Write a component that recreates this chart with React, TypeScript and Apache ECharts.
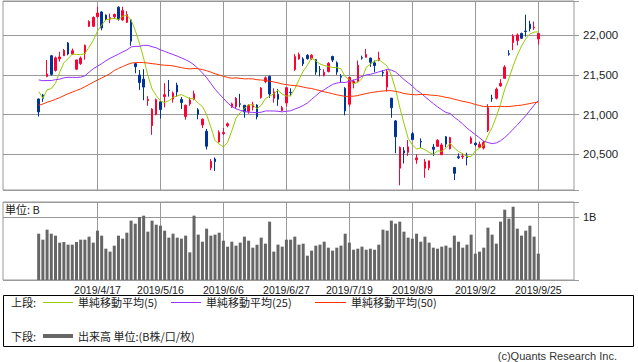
import React, { useEffect, useRef } from "react";
import * as echarts from "echarts";

// Trading days shown (2019)
const dates: string[] = [
  "2019/3/28", "2019/3/29", "2019/4/1", "2019/4/2", "2019/4/3", "2019/4/4", "2019/4/5", "2019/4/8", "2019/4/9", "2019/4/10",
  "2019/4/11", "2019/4/12", "2019/4/15", "2019/4/16", "2019/4/17", "2019/4/18", "2019/4/19", "2019/4/22", "2019/4/23", "2019/4/24",
  "2019/4/25", "2019/4/26", "2019/5/7", "2019/5/8", "2019/5/9", "2019/5/10", "2019/5/13", "2019/5/14", "2019/5/15", "2019/5/16",
  "2019/5/17", "2019/5/20", "2019/5/21", "2019/5/22", "2019/5/23", "2019/5/24", "2019/5/27", "2019/5/28", "2019/5/29", "2019/5/30",
  "2019/5/31", "2019/6/3", "2019/6/4", "2019/6/5", "2019/6/6", "2019/6/7", "2019/6/10", "2019/6/11", "2019/6/12", "2019/6/13",
  "2019/6/14", "2019/6/17", "2019/6/18", "2019/6/19", "2019/6/20", "2019/6/21", "2019/6/24", "2019/6/25", "2019/6/26", "2019/6/27",
  "2019/6/28", "2019/7/1", "2019/7/2", "2019/7/3", "2019/7/4", "2019/7/5", "2019/7/8", "2019/7/9", "2019/7/10", "2019/7/11",
  "2019/7/12", "2019/7/16", "2019/7/17", "2019/7/18", "2019/7/19", "2019/7/22", "2019/7/23", "2019/7/24", "2019/7/25", "2019/7/26",
  "2019/7/29", "2019/7/30", "2019/7/31", "2019/8/1", "2019/8/2", "2019/8/5", "2019/8/6", "2019/8/7", "2019/8/8", "2019/8/9",
  "2019/8/13", "2019/8/14", "2019/8/15", "2019/8/16", "2019/8/19", "2019/8/20", "2019/8/21", "2019/8/22", "2019/8/23", "2019/8/26",
  "2019/8/27", "2019/8/28", "2019/8/29", "2019/8/30", "2019/9/2", "2019/9/3", "2019/9/4", "2019/9/5", "2019/9/6", "2019/9/9",
  "2019/9/10", "2019/9/11", "2019/9/12", "2019/9/13", "2019/9/17", "2019/9/18", "2019/9/19", "2019/9/20", "2019/9/24", "2019/9/25",
];

const opens: number[] = [
  21196, 21245, 21480, 21740, 21555, 21700, 21740, 21900, 21760, 21570,
  21640, 21770, 22110, 22110, 22230, 22290, 22250, 22200, 22230, 22350,
  22190, 22160, 22190, 21640, 21497, 21445, 21175, 20860, 21000, 21160,
  21225, 21305, 21195, 21370, 21190, 20975, 21135, 21190, 21060, 20870,
  20790, 20330, 20440, 20655, 20760, 20860, 21095, 21100, 21135, 21117,
  21040, 21095, 21120, 21215, 21415, 21480, 21205, 21254, 21050, 21145,
  21280, 21565, 21700, 21700, 21745, 21700, 21690, 21570, 21490, 21540,
  21730, 21650, 21480, 21330, 21130, 21395, 21415, 21715, 21720, 21710,
  21650, 21680, 21530, 21345, 21205, 20920, 20325, 20545, 20525, 20760,
  20430, 20660, 20325, 20330, 20590, 20600, 20495, 20720, 20570, 20335,
  20470, 20470, 20480, 20640, 20640, 20590, 20580, 20800, 21205, 21205,
  21360, 21455, 21765, 21905, 21930, 22020, 22050, 22138, 22090, 21950,
];

const closes: number[] = [
  21033, 21206, 21509, 21505, 21713, 21724, 21807, 21761, 21802, 21687,
  21711, 21870, 22169, 22221, 22277, 22090, 22200, 22218, 22259, 22200,
  22307, 22258, 21923, 21602, 21402, 21345, 21191, 21067, 21188, 21063,
  21250, 21302, 21272, 21283, 21151, 21117, 21182, 21260, 21003, 20942,
  20601, 20410, 20408, 20776, 20774, 20884, 21134, 21204, 21129, 21032,
  21116, 21124, 20972, 21333, 21462, 21258, 21285, 21193, 21086, 21338,
  21275, 21729, 21754, 21638, 21702, 21746, 21534, 21565, 21533, 21643,
  21685, 21535, 21469, 21046, 21467, 21416, 21620, 21709, 21756, 21658,
  21616, 21709, 21521, 21540, 21087, 20720, 20585, 20516, 20593, 20684,
  20455, 20655, 20405, 20418, 20563, 20677, 20618, 20628, 20711, 20261,
  20456, 20479, 20460, 20704, 20620, 20625, 20649, 21085, 21199, 21318,
  21392, 21597, 21759, 21988, 22001, 21960, 22044, 22079, 22098, 22020,
];

const highs: number[] = [
  21200, 21260, 21686, 21750, 21730, 21790, 21825, 21910, 21830, 21690,
  21730, 21880, 22185, 22235, 22356, 22300, 22260, 22270, 22270, 22362,
  22356, 22300, 22200, 21650, 21560, 21570, 21230, 21080, 21200, 21165,
  21393, 21435, 21290, 21400, 21220, 21125, 21215, 21300, 21080, 20950,
  20820, 20440, 20460, 20800, 20830, 20900, 21150, 21220, 21260, 21120,
  21130, 21160, 21130, 21345, 21480, 21490, 21330, 21320, 21110, 21345,
  21330, 21760, 21780, 21720, 21760, 21760, 21700, 21610, 21570, 21660,
  21740, 21670, 21510, 21345, 21470, 21440, 21680, 21740, 21825, 21715,
  21680, 21790, 21560, 21565, 21210, 20930, 20600, 20590, 20680, 20780,
  20500, 20700, 20440, 20420, 20630, 20690, 20640, 20730, 20720, 20340,
  20510, 20510, 20520, 20725, 20650, 20660, 20670, 21130, 21250, 21340,
  21445, 21620, 21810, 22010, 22020, 22030, 22255, 22180, 22170, 22025,
];

const lows: number[] = [
  20975, 21160, 21470, 21490, 21540, 21665, 21735, 21745, 21750, 21560,
  21625, 21690, 22100, 22100, 22220, 22060, 22185, 22150, 22200, 22180,
  22180, 22150, 21866, 21520, 21310, 21180, 21110, 20745, 20990, 20950,
  21090, 21225, 21150, 21225, 21070, 20935, 21110, 21180, 20940, 20830,
  20560, 20300, 20290, 20650, 20740, 20840, 21085, 21080, 21090, 20960,
  21010, 21050, 20940, 21200, 21395, 21210, 21150, 21110, 21040, 21100,
  21230, 21550, 21690, 21610, 21690, 21690, 21500, 21480, 21480, 21530,
  21660, 21500, 21400, 20990, 21100, 21330, 21410, 21690, 21715, 21600,
  21530, 21670, 21480, 21290, 20960, 20514, 20110, 20385, 20480, 20680,
  20380, 20580, 20205, 20300, 20480, 20590, 20490, 20590, 20560, 20175,
  20440, 20440, 20360, 20630, 20600, 20580, 20560, 20780, 21160, 21190,
  21350, 21450, 21740, 21810, 21870, 21950, 21980, 22045, 22065, 21880,
];

// Volume, unit: billion shares (B)
const volumes: number[] = [
  0.735, 0.640, 0.799, 0.735, 0.704, 0.593, 0.603, 0.561, 0.561, 0.603,
  0.640, 0.640, 0.688, 0.593, 0.783, 0.704, 0.497, 0.450, 0.545, 0.704,
  0.656, 0.751, 0.942, 0.894, 1.000, 1.021, 0.767, 0.942, 0.878, 0.862,
  0.783, 0.672, 0.735, 0.672, 0.656, 0.704, 0.439, 1.021, 0.720, 0.608,
  0.815, 0.704, 0.720, 0.751, 0.624, 0.529, 0.608, 0.545, 0.593, 0.688,
  0.624, 0.513, 0.561, 0.672, 0.577, 0.926, 0.450, 0.561, 0.529, 0.640,
  0.640, 0.688, 0.561, 0.577, 0.386, 0.466, 0.545, 0.561, 0.608, 0.513,
  0.466, 0.513, 0.545, 0.735, 0.593, 0.481, 0.497, 0.529, 0.481, 0.497,
  0.481, 0.561, 0.799, 0.783, 0.942, 0.894, 0.926, 0.767, 0.672, 0.656,
  0.735, 0.608, 0.688, 0.593, 0.513, 0.497, 0.529, 0.545, 0.513, 0.704,
  0.608, 0.513, 0.561, 0.720, 0.418, 0.450, 0.513, 0.831, 0.720, 0.577,
  0.926, 1.116, 0.974, 1.164, 0.815, 0.704, 0.783, 0.862, 0.688, 0.418,
];

// Closes before the first shown day, used only for the moving averages
const lookbackCloses: number[] = [
  20442, 20402, 20666, 20719, 20622, 20593, 20574, 20773, 20649, 20664, 20556, 20773,
  20788, 20883, 20844, 20874, 20751, 20333, 20864, 21144, 21139, 20900, 21281, 21302,
  21431, 21464, 21425, 21528, 21449, 21556, 21385,
  21602, 21822, 21726, 21596, 21456, 21025, 21125, 21503, 21290, 21287, 21451, 21584,
  21566, 21608, 21627, 20977, 21428, 21378,
];

const maPeriods: number[] = [5, 25, 50];
const maNames: string[] = ["単純移動平均(5)", "単純移動平均(25)", "単純移動平均(50)"];
const maColors: string[] = ["#99cc00", "#9933ff", "#ff3300"];

const PAD_BEFORE = 8;
const PAD_AFTER = 8;
const FIRST_LABEL = 14; // dates[14] = 2019/4/17
const LABEL_STEP = 15;

const FONT_NUM = "'Liberation Sans', Arial, sans-serif";
const FONT_JP = "'Noto Sans CJK JP', sans-serif";

export default function App() {
  const ref = useRef<HTMLDivElement>(null);

  useEffect(() => {
    document.body.style.margin = "0";
    if (!ref.current) return;
    const chart = echarts.init(ref.current, undefined, { renderer: "svg" });

    const n = dates.length;
    const total = PAD_BEFORE + n + PAD_AFTER;
    const cats: string[] = [];
    for (let i = 0; i < total; i++) {
      const k = i - PAD_BEFORE;
      cats.push(k >= 0 && k < n ? dates[k] : `pad-${i}`);
    }
    const inData = (i: number) => i - PAD_BEFORE >= 0 && i - PAD_BEFORE < n;
    const candle = cats.map((_, i) => {
      const k = i - PAD_BEFORE;
      return inData(i) ? [opens[k], closes[k], lows[k], highs[k]] : "-";
    });
    const vol = cats.map((_, i) => (inData(i) ? volumes[i - PAD_BEFORE] : "-"));
    const all = lookbackCloses.concat(closes);
    const L = lookbackCloses.length;
    const sma = (p: number) =>
      cats.map((_, i) => {
        if (!inData(i)) return "-";
        const k = i - PAD_BEFORE;
        let s = 0;
        for (let j = k + L - p + 1; j <= k + L; j++) s += all[j];
        return +(s / p).toFixed(2);
      });

    const showAt = (idx: number) => {
      const k = idx - PAD_BEFORE;
      return k >= FIRST_LABEL && k < n && (k - FIRST_LABEL) % LABEL_STEP === 0;
    };

    const gridLine = { color: "#999999", width: 1 };

    const legendY1 = 302;
    const legendY2 = 336;

    chart.setOption({
      animation: false,
      backgroundColor: "#ffffff",
      grid: [
        { left: 3, top: 1, width: 571, height: 189, show: true, borderColor: "#999999", borderWidth: 1 },
        { left: 3, top: 202, width: 571, height: 78, show: true, borderColor: "#999999", borderWidth: 1 },
      ],
      xAxis: [
        {
          type: "category",
          gridIndex: 0,
          data: cats,
          boundaryGap: true,
          axisLine: { show: false },
          axisTick: { show: false },
          axisLabel: { show: false },
          splitLine: { show: true, interval: showAt, alignWithLabel: true, lineStyle: gridLine },
        },
        {
          type: "category",
          gridIndex: 1,
          data: cats,
          boundaryGap: true,
          axisLine: { show: false },
          axisTick: { show: false },
          axisLabel: {
            show: true,
            interval: showAt,
            margin: 4,
            fontSize: 10.5,
            fontFamily: FONT_NUM,
            color: "#222222",
          },
          splitLine: { show: true, interval: showAt, alignWithLabel: true, lineStyle: gridLine },
        },
      ],
      yAxis: [
        {
          type: "value",
          gridIndex: 0,
          position: "right",
          min: 20051,
          max: 22428,
          splitNumber: 5,
          axisLine: { show: false },
          axisTick: { show: true, length: 5, lineStyle: gridLine },
          axisLabel: {
            margin: 9,
            fontSize: 11.5,
            fontFamily: FONT_NUM,
            color: "#222222",
            formatter: (v: number) => (v % 500 === 0 ? v.toLocaleString("en-US") : ""),
          },
          splitLine: { show: true, lineStyle: gridLine },
        },
        {
          type: "value",
          gridIndex: 1,
          position: "right",
          min: 0,
          max: 1.238,
          interval: 1,
          axisLine: { show: false },
          axisTick: { show: true, length: 5, lineStyle: gridLine },
          axisLabel: {
            margin: 9,
            fontSize: 11,
            fontFamily: FONT_NUM,
            color: "#222222",
            formatter: (v: number) => (v === 1 ? "1B" : ""),
          },
          splitLine: { show: true, lineStyle: gridLine },
        },
      ],
      series: [
        {
          type: "candlestick",
          name: "price",
          xAxisIndex: 0,
          yAxisIndex: 0,
          data: candle,
          barWidth: 2,
          itemStyle: {
            color: "#ff0033",
            color0: "#003399",
            borderColor: "#ff0033",
            borderColor0: "#003399",
            borderWidth: 1,
          },
          z: 2,
        },
        ...maPeriods.map((p, idx) => ({
          type: "line",
          name: maNames[idx],
          xAxisIndex: 0,
          yAxisIndex: 0,
          data: sma(p),
          symbol: "none",
          showSymbol: false,
          lineStyle: { color: maColors[idx], width: 1 },
          z: 3,
        })),
        {
          type: "bar",
          name: "出来高",
          xAxisIndex: 1,
          yAxisIndex: 1,
          data: vol,
          barWidth: 3,
          itemStyle: { color: "#666666" },
        },
      ],
      graphic: [
        {
          type: "text",
          left: 5,
          top: 203,
          style: { text: "単位: B", fontSize: 11, fontFamily: FONT_JP, fill: "#222222" },
        },
        {
          type: "rect",
          shape: { x: 3.5, y: 295.5, width: 630, height: 51 },
          style: { fill: "none", stroke: "#000000", lineWidth: 1 },
        },
        {
          type: "text",
          x: 11,
          y: legendY1,
          style: { text: "上段:", fontSize: 11, fontFamily: FONT_JP, fill: "#222222", verticalAlign: "middle" },
        },
        {
          type: "line",
          shape: { x1: 43, y1: legendY1 + 0.5, x2: 73, y2: legendY1 + 0.5 },
          style: { stroke: maColors[0], lineWidth: 1 },
        },
        {
          type: "text",
          x: 78,
          y: legendY1,
          style: { text: maNames[0], fontSize: 11, fontFamily: FONT_JP, fill: "#222222", verticalAlign: "middle" },
        },
        {
          type: "line",
          shape: { x1: 171, y1: legendY1 + 0.5, x2: 201, y2: legendY1 + 0.5 },
          style: { stroke: maColors[1], lineWidth: 1 },
        },
        {
          type: "text",
          x: 206,
          y: legendY1,
          style: { text: maNames[1], fontSize: 11, fontFamily: FONT_JP, fill: "#222222", verticalAlign: "middle" },
        },
        {
          type: "line",
          shape: { x1: 315, y1: legendY1 + 0.5, x2: 346, y2: legendY1 + 0.5 },
          style: { stroke: maColors[2], lineWidth: 1 },
        },
        {
          type: "text",
          x: 351,
          y: legendY1,
          style: { text: maNames[2], fontSize: 11, fontFamily: FONT_JP, fill: "#222222", verticalAlign: "middle" },
        },
        {
          type: "text",
          x: 11,
          y: legendY2,
          style: { text: "下段:", fontSize: 11, fontFamily: FONT_JP, fill: "#222222", verticalAlign: "middle" },
        },
        {
          type: "line",
          shape: { x1: 43, y1: legendY2, x2: 73, y2: legendY2 },
          style: { stroke: "#666666", lineWidth: 4 },
        },
        {
          type: "text",
          x: 78,
          y: legendY2,
          style: { text: "出来高 単位:(B株/口/枚)", fontSize: 11, fontFamily: FONT_JP, fill: "#222222", verticalAlign: "middle" },
        },
        {
          type: "text",
          x: 617,
          y: 356,
          style: {
            text: "(c)Quants Research Inc.",
            fontSize: 11,
            fontFamily: FONT_NUM,
            fill: "#333333",
            align: "right",
            verticalAlign: "middle",
          },
        },
      ],
    });

    return () => chart.dispose();
  }, []);

  return <div ref={ref} style={{ width: 638, height: 362 }} />;
}
